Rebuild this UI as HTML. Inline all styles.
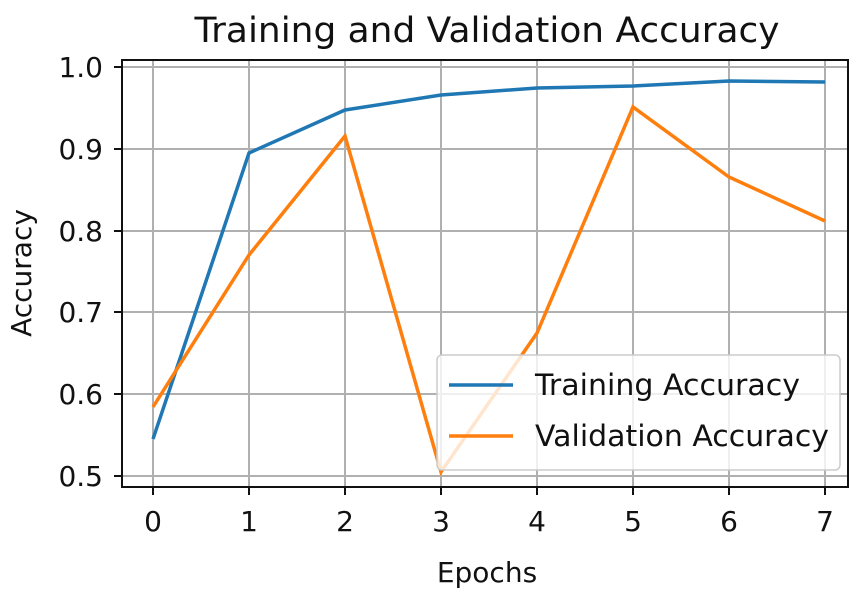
<!DOCTYPE html>
<html><head><style>body{margin:0;background:#fff}</style></head><body>
<svg width="863" height="592" xmlns="http://www.w3.org/2000/svg" font-family="'DejaVu Sans', 'Liberation Sans', sans-serif" fill="#111">
<rect width="863" height="592" fill="#fff"/>
<text x="487" y="42" font-size="35" text-anchor="middle" textLength="585" lengthAdjust="spacingAndGlyphs">Training and Validation Accuracy</text>
<g stroke="#b0b0b0" stroke-width="2">
<line x1="153" y1="60" x2="153" y2="487"/><line x1="249" y1="60" x2="249" y2="487"/><line x1="345" y1="60" x2="345" y2="487"/><line x1="441" y1="60" x2="441" y2="487"/><line x1="537" y1="60" x2="537" y2="487"/><line x1="633" y1="60" x2="633" y2="487"/><line x1="729" y1="60" x2="729" y2="487"/><line x1="825" y1="60" x2="825" y2="487"/>
<line x1="122" y1="67" x2="848" y2="67"/><line x1="122" y1="149" x2="848" y2="149"/><line x1="122" y1="231" x2="848" y2="231"/><line x1="122" y1="312" x2="848" y2="312"/><line x1="122" y1="394" x2="848" y2="394"/><line x1="122" y1="476" x2="848" y2="476"/>
</g>
<polyline fill="none" stroke="#1f77b4" stroke-width="3.5" points="153,439 249,153 345,110 441,95 537,88 633,86 729,81 825,82"/>
<polyline fill="none" stroke="#ff7f0e" stroke-width="3.5" points="153,407 249,255 345,136 441,472 537,333 633,107 729,177 825,221"/>
<rect x="122" y="60" width="726" height="427" fill="none" stroke="#111" stroke-width="2"/>
<g stroke="#111" stroke-width="2">
<line x1="153" y1="487" x2="153" y2="495"/><line x1="249" y1="487" x2="249" y2="495"/><line x1="345" y1="487" x2="345" y2="495"/><line x1="441" y1="487" x2="441" y2="495"/><line x1="537" y1="487" x2="537" y2="495"/><line x1="633" y1="487" x2="633" y2="495"/><line x1="729" y1="487" x2="729" y2="495"/><line x1="825" y1="487" x2="825" y2="495"/>
<line x1="114" y1="67" x2="122" y2="67"/><line x1="114" y1="149" x2="122" y2="149"/><line x1="114" y1="231" x2="122" y2="231"/><line x1="114" y1="312" x2="122" y2="312"/><line x1="114" y1="394" x2="122" y2="394"/><line x1="114" y1="476" x2="122" y2="476"/>
</g>
<g font-size="28" text-anchor="middle">
<text x="153" y="531">0</text><text x="249" y="531">1</text><text x="345" y="531">2</text><text x="441" y="531">3</text><text x="537" y="531">4</text><text x="633" y="531">5</text><text x="729" y="531">6</text><text x="825" y="531">7</text>
</g>
<g font-size="28" text-anchor="end">
<text x="103" y="77">1.0</text><text x="103" y="159">0.9</text><text x="103" y="241">0.8</text><text x="103" y="322">0.7</text><text x="103" y="404">0.6</text><text x="103" y="486">0.5</text>
</g>
<text x="487" y="582" font-size="28" text-anchor="middle">Epochs</text>
<text transform="translate(31,273) rotate(-90)" font-size="28" text-anchor="middle">Accuracy</text>
<rect x="437" y="355" width="403" height="115" rx="5" fill="#fff" fill-opacity="0.8" stroke="#ccc" stroke-width="1.5"/>
<line x1="449" y1="385" x2="513" y2="385" stroke="#1f77b4" stroke-width="3.5"/>
<line x1="449" y1="436" x2="513" y2="436" stroke="#ff7f0e" stroke-width="3.5"/>
<text x="535" y="395" font-size="29" textLength="265" lengthAdjust="spacingAndGlyphs">Training Accuracy</text>
<text x="535" y="446" font-size="29" textLength="294" lengthAdjust="spacingAndGlyphs">Validation Accuracy</text>
</svg>
</body></html>
